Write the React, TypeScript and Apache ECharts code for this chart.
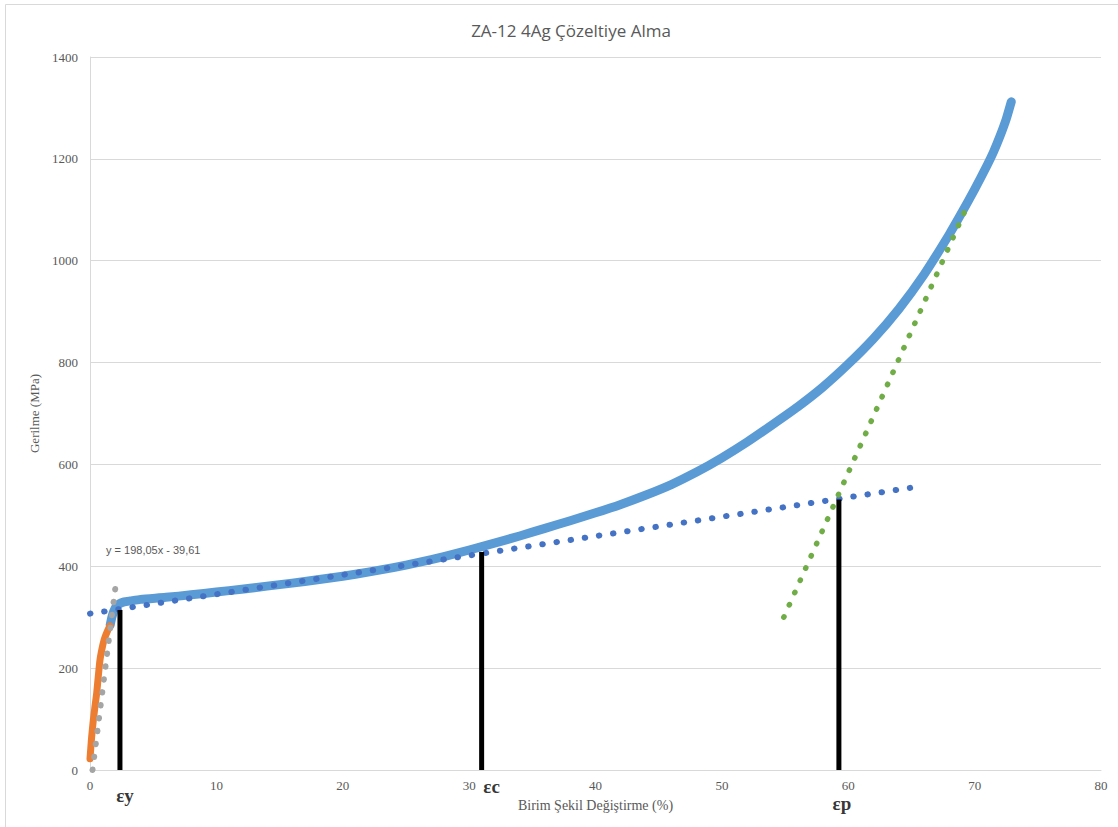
import { useEffect, useRef } from "react";
import * as echarts from "echarts";

// Stress–strain record of the ZA-12 4Ag solution-treated specimen
const strainPct = [
  1.6, 1.75, 2.0, 2.3, 2.7, 3.2, 4, 6, 8, 10, 12, 14, 16, 18, 20, 22, 24, 26, 28, 30,
  32, 34, 36, 38, 40, 42, 44, 46, 48, 50, 52, 54, 56, 58, 60, 62, 64, 66, 68, 69, 70,
  71, 71.5, 72, 72.5, 72.9,
];
const stressMPa = [
  285, 302, 318, 326, 330, 332, 335, 339, 344, 349.5, 355, 361, 367, 373.5, 380.5,
  388.5, 397.5, 407.5, 419, 432, 445.5, 459.5, 474.5, 489.5, 505, 521.5, 540, 560.5,
  585, 613, 644, 678, 713, 752, 797, 847, 905, 973, 1052, 1095, 1140, 1188, 1214, 1244,
  1278, 1312,
];

// Elastic region
const elasticStrain = [0.0, 0.06, 0.13, 0.25, 0.38, 0.53, 0.66, 0.79, 0.95, 1.1, 1.25, 1.42, 1.58];
const elasticStress = [22, 42, 65, 95, 122, 151, 185, 216, 238, 254, 265, 275, 283];

// Linear fit of the elastic region: y = 198,05x - 39,61
const elasticFitSlope = 198.05;
const elasticFitIntercept = -39.61;
const elasticFitRange = [0.2, 2.0];

// Hardening tangent lines
const plateauFit = [
  [0, 307],
  [64.9, 554],
];
const finalFit = [
  [54.9, 300],
  [69.4, 1107],
];

// Characteristic strains
const markNames = ["εy", "εc", "εp"];
const markStrain = [2.37, 30.99, 59.26];
const markStress = [314, 428, 531];

const xTickMin = 0;
const xTickMax = 80;
const xTickStep = 10;
const yTickMin = 0;
const yTickMax = 1400;
const yTickStep = 200;

const titleText = "ZA-12 4Ag Çözeltiye Alma";
const xAxisTitle = "Birim Şekil Değiştirme (%)";
const yAxisTitle = "Gerilme (MPa)";

const fmt = (v: number) => v.toFixed(2).replace(".", ",");

export default function App() {
  const ref = useRef<HTMLDivElement>(null);

  useEffect(() => {
    if (!ref.current) return;
    const chart = echarts.init(ref.current, undefined, { renderer: "svg" });

    const mainData = strainPct.map((x, i) => [x, stressMPa[i]]);
    const elasticData = elasticStrain.map((x, i) => [x, elasticStress[i]]);
    const elasticFitData = elasticFitRange.map((x) => [
      x,
      elasticFitSlope * x + elasticFitIntercept,
    ]);
    const eqText = `y = ${fmt(elasticFitSlope)}x - ${fmt(-elasticFitIntercept)}`;

    const labelOffsets: Record<string, number[]> = {
      εy: [5, 25],
      εc: [10, 16],
      εp: [3, 33],
    };

    const serif = "'Liberation Serif', 'DejaVu Serif', serif";

    const dotted = (color: string, width: number, gap: number) => ({
      color,
      width,
      type: [0.5, gap] as number[],
      cap: "round" as const,
    });

    const barSeries = markNames.map((name, i) => ({
      type: "line",
      name,
      data: [
        [markStrain[i], 0],
        [markStrain[i], markStress[i]],
      ],
      showSymbol: false,
      symbol: "none",
      lineStyle: { color: "#000000", width: 5 },
      z: 6,
      silent: true,
    }));

    chart.setOption({
      animation: false,
      backgroundColor: "#ffffff",
      title: {
        text: titleText,
        left: 566,
        top: 17,
        textAlign: "center",
        textStyle: {
          fontFamily: "'Open Sans', 'Noto Sans', sans-serif",
          fontSize: 17,
          fontWeight: "normal",
          color: "#595959",
        },
      },
      grid: { left: 90, right: 17, top: 57, bottom: 57 },
      xAxis: {
        type: "value",
        min: xTickMin,
        max: xTickMax,
        interval: xTickStep,
        name: xAxisTitle,
        nameLocation: "middle",
        nameGap: 28,
        nameTextStyle: { fontFamily: serif, fontSize: 14, color: "#595959" },
        axisLine: { show: true, lineStyle: { color: "#d9d9d9", width: 1 } },
        axisTick: { show: false },
        splitLine: { show: false },
        axisLabel: {
          fontFamily: serif,
          fontSize: 13,
          color: "#595959",
          margin: 9,
          formatter: (v: number) => String(v),
        },
      },
      yAxis: {
        type: "value",
        min: yTickMin,
        max: yTickMax,
        interval: yTickStep,
        name: yAxisTitle,
        nameLocation: "middle",
        nameGap: 46,
        nameTextStyle: { fontFamily: serif, fontSize: 13, color: "#595959" },
        axisLine: { show: true, lineStyle: { color: "#d9d9d9", width: 1 } },
        axisTick: { show: false },
        splitLine: { show: true, lineStyle: { color: "#d9d9d9", width: 1 } },
        axisLabel: {
          fontFamily: serif,
          fontSize: 13,
          color: "#595959",
          margin: 12,
          formatter: (v: number) => String(v),
        },
      },
      series: [
        {
          type: "line",
          name: "Gerilme",
          data: mainData,
          smooth: 0.2,
          showSymbol: false,
          symbol: "none",
          lineStyle: { color: "#5b9bd5", width: 9, cap: "round", join: "round" },
          z: 2,
          silent: true,
        },
        {
          type: "line",
          name: "Elastik",
          data: elasticData,
          smooth: 0.2,
          showSymbol: false,
          symbol: "none",
          lineStyle: { color: "#ed7d31", width: 7, cap: "round", join: "round" },
          z: 3,
          silent: true,
        },
        {
          type: "line",
          name: "Elastik doğrusal",
          data: elasticFitData,
          showSymbol: false,
          symbol: "none",
          lineStyle: dotted("#a5a5a5", 6, 12.5),
          z: 4,
          silent: true,
        },
        {
          type: "line",
          name: "Plato",
          data: plateauFit,
          showSymbol: false,
          symbol: "none",
          lineStyle: dotted("#4472c4", 6, 13.8),
          z: 4,
          silent: true,
        },
        {
          type: "line",
          name: "Son bölge",
          data: finalFit,
          showSymbol: false,
          symbol: "none",
          lineStyle: dotted("#70ad47", 5.5, 12.9),
          z: 4,
          silent: true,
        },
        ...barSeries,
        {
          type: "scatter",
          name: "Etiketler",
          symbolSize: 0,
          itemStyle: { color: "transparent" },
          data: markNames.map((name, i) => ({
            value: [markStrain[i], 0],
            label: {
              show: true,
              position: "inside",
              formatter: name,
              offset: labelOffsets[name],
              fontFamily: serif,
              fontWeight: "bold",
              fontSize: 19,
              lineHeight: 16,
              color: "#000000",
            },
          })),
          z: 7,
          silent: true,
        },
      ],
      graphic: [
        {
          type: "rect",
          silent: true,
          z: -1,
          shape: { x: 5.5, y: 4.5, width: 1200, height: 900 },
          style: { fill: "none", stroke: "#d9d9d9", lineWidth: 1 },
        },
        {
          type: "text",
          silent: true,
          left: 106,
          top: 544,
          style: {
            text: eqText,
            fontFamily: "'Liberation Sans', 'DejaVu Sans', sans-serif",
            fontSize: 11,
            fill: "#595959",
          },
        },
      ],
    });

    return () => chart.dispose();
  }, []);

  return (
    <div
      ref={ref}
      style={{ position: "fixed", left: 0, top: 0, width: 1118, height: 827 }}
    />
  );
}
